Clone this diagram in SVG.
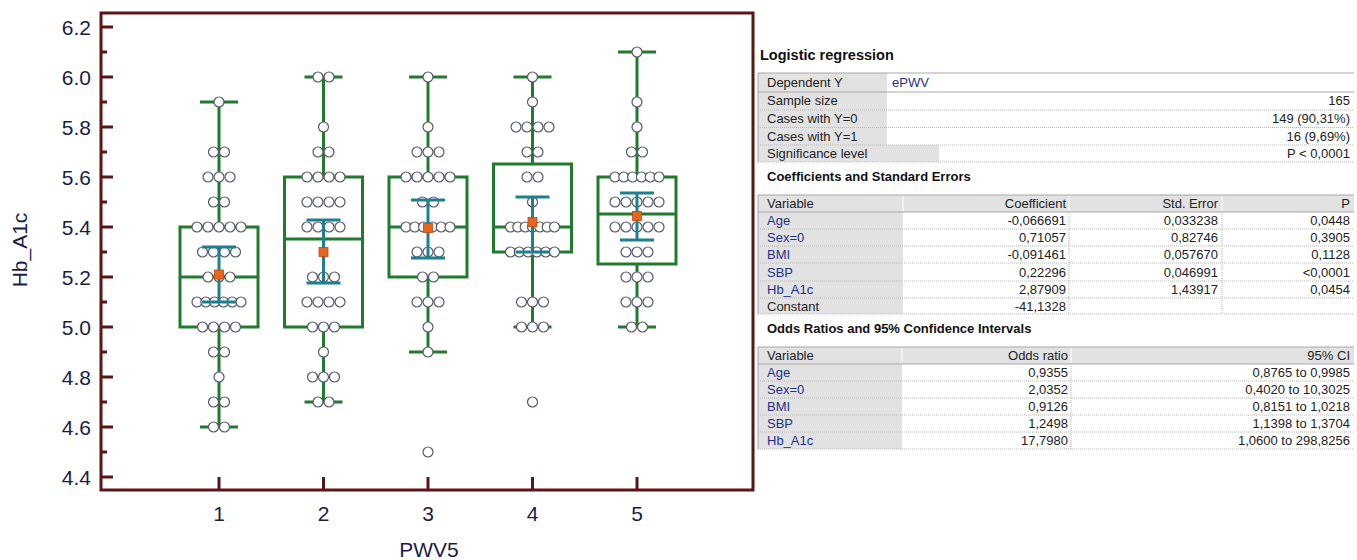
<svg xmlns="http://www.w3.org/2000/svg" width="1357" height="560" viewBox="0 0 1357 560">
<style>
.ax{font-family:"Liberation Sans",Arial,sans-serif;font-size:21px;fill:#1c1c48}
.fr{fill:none;stroke:#5a1616;stroke-width:3}
.tk{stroke:#5a1616;stroke-width:3}
.bx{fill:none;stroke:#217a2e;stroke-width:3}
.wl{stroke:#217a2e;stroke-width:3}
.ci{stroke:#1f7f8c;stroke-width:3}
.mn{fill:#e8651e;stroke:#c04a10;stroke-width:0.8}
.d{fill:#fff;stroke:#555a6a;stroke-width:1.2}
.t{font-family:"Liberation Sans",Arial,sans-serif;font-size:13px;fill:#222}
.tb{font-family:"Liberation Sans",Arial,sans-serif;font-size:13px;font-weight:bold;fill:#111}
.v{fill:#1f2f8f}
.r{text-anchor:end}
.g{fill:#e2e2e2}
.hl{stroke:#a8a8a8;stroke-width:1}
.dl{stroke:#b8b8b8;stroke-width:1;stroke-dasharray:1 1}
.sep{stroke:#ffffff;stroke-width:1}
</style>
<rect width="1357" height="560" fill="#fff"/>
<g id="axes">
<rect class="fr" x="101" y="13" width="652" height="477"/>
<g class="tk">
<line x1="101" y1="27" x2="113" y2="27"/><line x1="101" y1="52" x2="107" y2="52"/>
<line x1="101" y1="77" x2="113" y2="77"/><line x1="101" y1="102" x2="107" y2="102"/>
<line x1="101" y1="127" x2="113" y2="127"/><line x1="101" y1="152" x2="107" y2="152"/>
<line x1="101" y1="177" x2="113" y2="177"/><line x1="101" y1="202" x2="107" y2="202"/>
<line x1="101" y1="227" x2="113" y2="227"/><line x1="101" y1="252" x2="107" y2="252"/>
<line x1="101" y1="277" x2="113" y2="277"/><line x1="101" y1="302" x2="107" y2="302"/>
<line x1="101" y1="327" x2="113" y2="327"/><line x1="101" y1="352" x2="107" y2="352"/>
<line x1="101" y1="377" x2="113" y2="377"/><line x1="101" y1="402" x2="107" y2="402"/>
<line x1="101" y1="427" x2="113" y2="427"/><line x1="101" y1="452" x2="107" y2="452"/>
<line x1="101" y1="477" x2="113" y2="477"/>
<line x1="219" y1="490" x2="219" y2="477"/><line x1="323.5" y1="490" x2="323.5" y2="477"/>
<line x1="428" y1="490" x2="428" y2="477"/><line x1="532.5" y1="490" x2="532.5" y2="477"/>
<line x1="637" y1="490" x2="637" y2="477"/>
</g>
<g class="ax r">
<text x="91" y="34.5">6.2</text><text x="91" y="84.5">6.0</text><text x="91" y="134.5">5.8</text>
<text x="91" y="184.5">5.6</text><text x="91" y="234.5">5.4</text><text x="91" y="284.5">5.2</text>
<text x="91" y="334.5">5.0</text><text x="91" y="384.5">4.8</text><text x="91" y="434.5">4.6</text>
<text x="91" y="484.5">4.4</text>
</g>
<g class="ax" text-anchor="middle">
<text x="219" y="521">1</text><text x="323.5" y="521">2</text><text x="428" y="521">3</text>
<text x="532.5" y="521">4</text><text x="637" y="521">5</text>
<text x="429" y="557">PWV5</text>
<text transform="translate(27,250) rotate(-90)">Hb_A1c</text>
</g>
</g>
<g id="group-1">
<rect class="bx" x="180" y="227" width="78" height="100"/>
<line class="wl" x1="180" y1="277" x2="258" y2="277"/>
<line class="wl" x1="219" y1="227" x2="219" y2="102"/><line class="wl" x1="200" y1="102" x2="238" y2="102"/>
<line class="wl" x1="219" y1="327" x2="219" y2="427"/><line class="wl" x1="200" y1="427" x2="238" y2="427"/>
<circle class="d" cx="219" cy="102" r="5"/>
<circle class="d" cx="213.5" cy="152" r="5"/><circle class="d" cx="224.5" cy="152" r="5"/>
<circle class="d" cx="208" cy="177" r="5"/><circle class="d" cx="219" cy="177" r="5"/><circle class="d" cx="230" cy="177" r="5"/>
<circle class="d" cx="213.5" cy="202" r="5"/><circle class="d" cx="224.5" cy="202" r="5"/>
<circle class="d" cx="197" cy="227" r="5"/><circle class="d" cx="208" cy="227" r="5"/><circle class="d" cx="219" cy="227" r="5"/><circle class="d" cx="230" cy="227" r="5"/><circle class="d" cx="241" cy="227" r="5"/>
<circle class="d" cx="202.5" cy="252" r="5"/><circle class="d" cx="213.5" cy="252" r="5"/><circle class="d" cx="224.5" cy="252" r="5"/><circle class="d" cx="235.5" cy="252" r="5"/>
<circle class="d" cx="208" cy="277" r="5"/><circle class="d" cx="219" cy="277" r="5"/><circle class="d" cx="230" cy="277" r="5"/>
<circle class="d" cx="197" cy="302" r="5"/><circle class="d" cx="205.8" cy="302" r="5"/><circle class="d" cx="214.6" cy="302" r="5"/><circle class="d" cx="223.4" cy="302" r="5"/><circle class="d" cx="232.2" cy="302" r="5"/><circle class="d" cx="241" cy="302" r="5"/>
<circle class="d" cx="202.5" cy="327" r="5"/><circle class="d" cx="213.5" cy="327" r="5"/><circle class="d" cx="224.5" cy="327" r="5"/><circle class="d" cx="235.5" cy="327" r="5"/>
<circle class="d" cx="213.5" cy="352" r="5"/><circle class="d" cx="224.5" cy="352" r="5"/>
<circle class="d" cx="219" cy="377" r="5"/>
<circle class="d" cx="213.5" cy="402" r="5"/><circle class="d" cx="224.5" cy="402" r="5"/>
<circle class="d" cx="213.5" cy="427" r="5"/><circle class="d" cx="224.5" cy="427" r="5"/>
<line class="ci" x1="219" y1="247" x2="219" y2="302"/><line class="ci" x1="202" y1="247" x2="236" y2="247"/><line class="ci" x1="202" y1="302" x2="236" y2="302"/>
<rect class="mn" x="214.5" y="270" width="9" height="9"/>
</g>
<g id="group-2">
<rect class="bx" x="284.5" y="177" width="78" height="150"/>
<line class="wl" x1="284.5" y1="239" x2="362.5" y2="239"/>
<line class="wl" x1="323.5" y1="177" x2="323.5" y2="77"/><line class="wl" x1="304.5" y1="77" x2="342.5" y2="77"/>
<line class="wl" x1="323.5" y1="327" x2="323.5" y2="402"/><line class="wl" x1="304.5" y1="402" x2="342.5" y2="402"/>
<circle class="d" cx="318" cy="77" r="5"/><circle class="d" cx="329" cy="77" r="5"/>
<circle class="d" cx="323.5" cy="127" r="5"/>
<circle class="d" cx="318" cy="152" r="5"/><circle class="d" cx="329" cy="152" r="5"/>
<circle class="d" cx="307" cy="177" r="5"/><circle class="d" cx="318" cy="177" r="5"/><circle class="d" cx="329" cy="177" r="5"/><circle class="d" cx="340" cy="177" r="5"/>
<circle class="d" cx="307" cy="202" r="5"/><circle class="d" cx="318" cy="202" r="5"/><circle class="d" cx="329" cy="202" r="5"/><circle class="d" cx="340" cy="202" r="5"/>
<circle class="d" cx="307" cy="227" r="5"/><circle class="d" cx="318" cy="227" r="5"/><circle class="d" cx="329" cy="227" r="5"/><circle class="d" cx="340" cy="227" r="5"/>
<circle class="d" cx="312.5" cy="277" r="5"/><circle class="d" cx="323.5" cy="277" r="5"/><circle class="d" cx="334.5" cy="277" r="5"/>
<circle class="d" cx="307" cy="302" r="5"/><circle class="d" cx="318" cy="302" r="5"/><circle class="d" cx="329" cy="302" r="5"/><circle class="d" cx="340" cy="302" r="5"/>
<circle class="d" cx="312.5" cy="327" r="5"/><circle class="d" cx="323.5" cy="327" r="5"/><circle class="d" cx="334.5" cy="327" r="5"/>
<circle class="d" cx="323.5" cy="352" r="5"/>
<circle class="d" cx="312.5" cy="377" r="5"/><circle class="d" cx="323.5" cy="377" r="5"/><circle class="d" cx="334.5" cy="377" r="5"/>
<circle class="d" cx="318" cy="402" r="5"/><circle class="d" cx="329" cy="402" r="5"/>
<line class="ci" x1="323.5" y1="220" x2="323.5" y2="283"/><line class="ci" x1="306.5" y1="220" x2="340.5" y2="220"/><line class="ci" x1="306.5" y1="283" x2="340.5" y2="283"/>
<rect class="mn" x="319" y="247.5" width="9" height="9"/>
</g>
<g id="group-3">
<rect class="bx" x="389" y="177" width="78" height="100"/>
<line class="wl" x1="389" y1="227" x2="467" y2="227"/>
<line class="wl" x1="428" y1="177" x2="428" y2="77"/><line class="wl" x1="409" y1="77" x2="447" y2="77"/>
<line class="wl" x1="428" y1="277" x2="428" y2="352"/><line class="wl" x1="409" y1="352" x2="447" y2="352"/>
<circle class="d" cx="428" cy="77" r="5"/>
<circle class="d" cx="428" cy="127" r="5"/>
<circle class="d" cx="417" cy="152" r="5"/><circle class="d" cx="428" cy="152" r="5"/><circle class="d" cx="439" cy="152" r="5"/>
<circle class="d" cx="406" cy="177" r="5"/><circle class="d" cx="417" cy="177" r="5"/><circle class="d" cx="428" cy="177" r="5"/><circle class="d" cx="439" cy="177" r="5"/><circle class="d" cx="450" cy="177" r="5"/>
<circle class="d" cx="422.5" cy="202" r="5"/><circle class="d" cx="433.5" cy="202" r="5"/>
<circle class="d" cx="406" cy="227" r="5"/><circle class="d" cx="414.8" cy="227" r="5"/><circle class="d" cx="423.6" cy="227" r="5"/><circle class="d" cx="432.4" cy="227" r="5"/><circle class="d" cx="441.2" cy="227" r="5"/><circle class="d" cx="450" cy="227" r="5"/>
<circle class="d" cx="417" cy="252" r="5"/><circle class="d" cx="428" cy="252" r="5"/><circle class="d" cx="439" cy="252" r="5"/>
<circle class="d" cx="422.5" cy="277" r="5"/><circle class="d" cx="433.5" cy="277" r="5"/>
<circle class="d" cx="417" cy="302" r="5"/><circle class="d" cx="428" cy="302" r="5"/><circle class="d" cx="439" cy="302" r="5"/>
<circle class="d" cx="428" cy="327" r="5"/>
<circle class="d" cx="428" cy="352" r="5"/>
<circle class="d" cx="428" cy="452" r="5"/>
<line class="ci" x1="428" y1="200" x2="428" y2="258"/><line class="ci" x1="411" y1="200" x2="445" y2="200"/><line class="ci" x1="411" y1="258" x2="445" y2="258"/>
<rect class="mn" x="423.5" y="223.5" width="9" height="9"/>
</g>
<g id="group-4">
<rect class="bx" x="493.5" y="164" width="78" height="88"/>
<line class="wl" x1="493.5" y1="227" x2="571.5" y2="227"/>
<line class="wl" x1="532.5" y1="164" x2="532.5" y2="77"/><line class="wl" x1="513.5" y1="77" x2="551.5" y2="77"/>
<line class="wl" x1="532.5" y1="252" x2="532.5" y2="327"/><line class="wl" x1="513.5" y1="327" x2="551.5" y2="327"/>
<circle class="d" cx="532.5" cy="77" r="5"/>
<circle class="d" cx="532.5" cy="102" r="5"/>
<circle class="d" cx="516" cy="127" r="5"/><circle class="d" cx="527" cy="127" r="5"/><circle class="d" cx="538" cy="127" r="5"/><circle class="d" cx="549" cy="127" r="5"/>
<circle class="d" cx="527" cy="152" r="5"/><circle class="d" cx="538" cy="152" r="5"/>
<circle class="d" cx="527" cy="177" r="5"/><circle class="d" cx="538" cy="177" r="5"/>
<circle class="d" cx="532.5" cy="202" r="5"/>
<circle class="d" cx="510.5" cy="227" r="5"/><circle class="d" cx="517.8" cy="227" r="5"/><circle class="d" cx="525.2" cy="227" r="5"/><circle class="d" cx="532.5" cy="227" r="5"/><circle class="d" cx="539.8" cy="227" r="5"/><circle class="d" cx="547.2" cy="227" r="5"/><circle class="d" cx="554.5" cy="227" r="5"/>
<circle class="d" cx="510.5" cy="252" r="5"/><circle class="d" cx="519.3" cy="252" r="5"/><circle class="d" cx="528.1" cy="252" r="5"/><circle class="d" cx="536.9" cy="252" r="5"/><circle class="d" cx="545.7" cy="252" r="5"/><circle class="d" cx="554.5" cy="252" r="5"/>
<circle class="d" cx="521.5" cy="302" r="5"/><circle class="d" cx="532.5" cy="302" r="5"/><circle class="d" cx="543.5" cy="302" r="5"/>
<circle class="d" cx="521.5" cy="327" r="5"/><circle class="d" cx="532.5" cy="327" r="5"/><circle class="d" cx="543.5" cy="327" r="5"/>
<circle class="d" cx="532.5" cy="402" r="5"/>
<line class="ci" x1="532.5" y1="197" x2="532.5" y2="252"/><line class="ci" x1="515.5" y1="197" x2="549.5" y2="197"/><line class="ci" x1="515.5" y1="252" x2="549.5" y2="252"/>
<rect class="mn" x="528" y="217.5" width="9" height="9"/>
</g>
<g id="group-5">
<rect class="bx" x="598" y="177" width="78" height="87"/>
<line class="wl" x1="598" y1="214" x2="676" y2="214"/>
<line class="wl" x1="637" y1="177" x2="637" y2="52"/><line class="wl" x1="618" y1="52" x2="656" y2="52"/>
<line class="wl" x1="637" y1="264" x2="637" y2="327"/><line class="wl" x1="618" y1="327" x2="656" y2="327"/>
<circle class="d" cx="637" cy="52" r="5"/>
<circle class="d" cx="637" cy="102" r="5"/>
<circle class="d" cx="637" cy="127" r="5"/>
<circle class="d" cx="631.5" cy="152" r="5"/><circle class="d" cx="642.5" cy="152" r="5"/>
<circle class="d" cx="615" cy="177" r="5"/><circle class="d" cx="623.8" cy="177" r="5"/><circle class="d" cx="632.6" cy="177" r="5"/><circle class="d" cx="641.4" cy="177" r="5"/><circle class="d" cx="650.2" cy="177" r="5"/><circle class="d" cx="659" cy="177" r="5"/>
<circle class="d" cx="615" cy="202" r="5"/><circle class="d" cx="626" cy="202" r="5"/><circle class="d" cx="637" cy="202" r="5"/><circle class="d" cx="648" cy="202" r="5"/><circle class="d" cx="659" cy="202" r="5"/>
<circle class="d" cx="615" cy="227" r="5"/><circle class="d" cx="626" cy="227" r="5"/><circle class="d" cx="637" cy="227" r="5"/><circle class="d" cx="648" cy="227" r="5"/><circle class="d" cx="659" cy="227" r="5"/>
<circle class="d" cx="626" cy="252" r="5"/><circle class="d" cx="637" cy="252" r="5"/><circle class="d" cx="648" cy="252" r="5"/>
<circle class="d" cx="626" cy="277" r="5"/><circle class="d" cx="637" cy="277" r="5"/><circle class="d" cx="648" cy="277" r="5"/>
<circle class="d" cx="626" cy="302" r="5"/><circle class="d" cx="637" cy="302" r="5"/><circle class="d" cx="648" cy="302" r="5"/>
<circle class="d" cx="631.5" cy="327" r="5"/><circle class="d" cx="642.5" cy="327" r="5"/>
<line class="ci" x1="637" y1="193" x2="637" y2="240"/><line class="ci" x1="620" y1="193" x2="654" y2="193"/><line class="ci" x1="620" y1="240" x2="654" y2="240"/>
<rect class="mn" x="632.5" y="211.5" width="9" height="9"/>
</g>
<g id="table-summary">
<text class="tb" x="760" y="60" style="font-size:14.5px">Logistic regression</text>
<rect class="g" x="758" y="73" width="129" height="72"/>
<rect class="g" x="758" y="145" width="181" height="17"/>
<line class="hl" x1="758" y1="73" x2="1354" y2="73"/>
<line class="hl" x1="758" y1="92" x2="1354" y2="92"/>
<line class="dl" x1="758" y1="110" x2="1354" y2="110"/>
<line class="dl" x1="758" y1="127.5" x2="1354" y2="127.5"/>
<line class="dl" x1="758" y1="145" x2="1354" y2="145"/>
<line class="dl" x1="758" y1="162" x2="1354" y2="162"/>
<line class="hl" x1="758" y1="73" x2="758" y2="162"/>
<text class="t" x="767" y="87">Dependent Y</text><text class="t v" x="892" y="87">ePWV</text>
<text class="t" x="767" y="105">Sample size</text><text class="t r" x="1350" y="105">165</text>
<text class="t" x="767" y="123">Cases with Y=0</text><text class="t r" x="1350" y="123">149 (90,31%)</text>
<text class="t" x="767" y="140.5">Cases with Y=1</text><text class="t r" x="1350" y="140.5">16 (9,69%)</text>
<text class="t" x="767" y="158">Significance level</text><text class="t r" x="1350" y="158">P &lt; 0,0001</text>
</g>
<g id="table-coefficients">
<text class="tb" x="767" y="181">Coefficients and Standard Errors</text>
<rect class="g" x="758" y="195" width="596" height="17"/>
<rect class="g" x="758" y="212" width="145" height="102"/>
<line class="hl" x1="758" y1="195" x2="1354" y2="195"/>
<line class="hl" x1="758" y1="212" x2="1354" y2="212"/>
<line class="sep" x1="903" y1="196" x2="903" y2="211"/><line class="sep" x1="1069" y1="196" x2="1069" y2="211"/><line class="sep" x1="1222" y1="196" x2="1222" y2="211"/>
<line class="dl" x1="758" y1="229" x2="1354" y2="229"/>
<line class="dl" x1="758" y1="246" x2="1354" y2="246"/>
<line class="dl" x1="758" y1="263" x2="1354" y2="263"/>
<line class="dl" x1="758" y1="281" x2="1354" y2="281"/>
<line class="dl" x1="758" y1="298" x2="1354" y2="298"/>
<line class="dl" x1="758" y1="314" x2="1354" y2="314"/>
<line class="dl" x1="1069" y1="212" x2="1069" y2="314"/><line class="dl" x1="1222" y1="212" x2="1222" y2="314"/>
<line class="hl" x1="758" y1="195" x2="758" y2="314"/>
<text class="t" x="767" y="208">Variable</text><text class="t r" x="1066" y="208">Coefficient</text><text class="t r" x="1218" y="208">Std. Error</text><text class="t r" x="1350" y="208">P</text>
<text class="t v" x="767" y="225">Age</text><text class="t r" x="1066" y="225">-0,066691</text><text class="t r" x="1218" y="225">0,033238</text><text class="t r" x="1350" y="225">0,0448</text>
<text class="t v" x="767" y="242">Sex=0</text><text class="t r" x="1066" y="242">0,71057</text><text class="t r" x="1218" y="242">0,82746</text><text class="t r" x="1350" y="242">0,3905</text>
<text class="t v" x="767" y="259">BMI</text><text class="t r" x="1066" y="259">-0,091461</text><text class="t r" x="1218" y="259">0,057670</text><text class="t r" x="1350" y="259">0,1128</text>
<text class="t v" x="767" y="276.5">SBP</text><text class="t r" x="1066" y="276.5">0,22296</text><text class="t r" x="1218" y="276.5">0,046991</text><text class="t r" x="1350" y="276.5">&lt;0,0001</text>
<text class="t v" x="767" y="294">Hb_A1c</text><text class="t r" x="1066" y="294">2,87909</text><text class="t r" x="1218" y="294">1,43917</text><text class="t r" x="1350" y="294">0,0454</text>
<text class="t" x="767" y="310.5">Constant</text><text class="t r" x="1066" y="310.5">-41,1328</text>
</g>
<g id="table-odds">
<text class="tb" x="767" y="332.5">Odds Ratios and 95% Confidence Intervals</text>
<rect class="g" x="758" y="347" width="596" height="17"/>
<rect class="g" x="758" y="364" width="144" height="85"/>
<line class="hl" x1="758" y1="347" x2="1354" y2="347"/>
<line class="hl" x1="758" y1="364" x2="1354" y2="364"/>
<line class="sep" x1="902" y1="348" x2="902" y2="363"/><line class="sep" x1="1071" y1="348" x2="1071" y2="363"/>
<line class="dl" x1="758" y1="381" x2="1354" y2="381"/>
<line class="dl" x1="758" y1="398" x2="1354" y2="398"/>
<line class="dl" x1="758" y1="415" x2="1354" y2="415"/>
<line class="dl" x1="758" y1="432" x2="1354" y2="432"/>
<line class="dl" x1="758" y1="449" x2="1354" y2="449"/>
<line class="dl" x1="1071" y1="364" x2="1071" y2="449"/>
<line class="hl" x1="758" y1="347" x2="758" y2="449"/>
<text class="t" x="767" y="360">Variable</text><text class="t r" x="1068" y="360">Odds ratio</text><text class="t r" x="1350" y="360">95% CI</text>
<text class="t v" x="767" y="377">Age</text><text class="t r" x="1068" y="377">0,9355</text><text class="t r" x="1350" y="377">0,8765 to 0,9985</text>
<text class="t v" x="767" y="394">Sex=0</text><text class="t r" x="1068" y="394">2,0352</text><text class="t r" x="1350" y="394">0,4020 to 10,3025</text>
<text class="t v" x="767" y="411">BMI</text><text class="t r" x="1068" y="411">0,9126</text><text class="t r" x="1350" y="411">0,8151 to 1,0218</text>
<text class="t v" x="767" y="428">SBP</text><text class="t r" x="1068" y="428">1,2498</text><text class="t r" x="1350" y="428">1,1398 to 1,3704</text>
<text class="t v" x="767" y="445">Hb_A1c</text><text class="t r" x="1068" y="445">17,7980</text><text class="t r" x="1350" y="445">1,0600 to 298,8256</text>
</g>
</svg>
